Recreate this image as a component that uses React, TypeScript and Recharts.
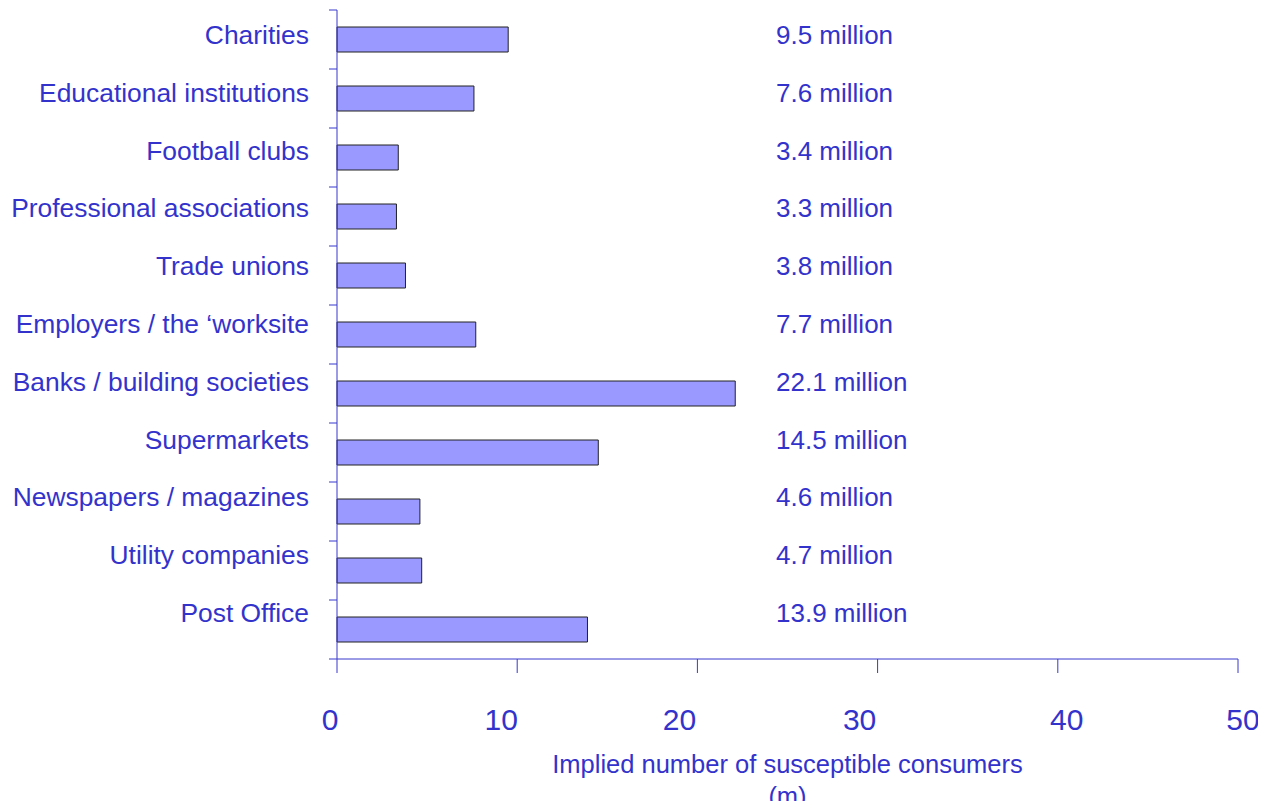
import { BarChart, Bar, XAxis, YAxis, LabelList } from 'recharts';

const categories = [
  'Charities',
  'Educational institutions',
  'Football clubs',
  'Professional associations',
  'Trade unions',
  'Employers / the \u2018worksite',
  'Banks / building societies',
  'Supermarkets',
  'Newspapers / magazines',
  'Utility companies',
  'Post Office',
];

const consumers = [9.5, 7.6, 3.4, 3.3, 3.8, 7.7, 22.1, 14.5, 4.6, 4.7, 13.9];

const valueLabels = [
  '9.5 million',
  '7.6 million',
  '3.4 million',
  '3.3 million',
  '3.8 million',
  '7.7 million',
  '22.1 million',
  '14.5 million',
  '4.6 million',
  '4.7 million',
  '13.9 million',
];

const xTicks = [0, 10, 20, 30, 40, 50];

const data = categories.map((name, i) => ({ name, value: consumers[i], label: valueLabels[i] }));

const BLUE = '#3333cc';
const AXIS = '#3838cc';
const FONT = '"Liberation Sans", Arial, sans-serif';

// the original's tick numbers sit a bit off their ticks
const xLabelShift = [-7, -16, -18, -18, 9, 5];

// text in the original drifts up a little per row
const rowShift = (index: number) => 4.5 - 1.2 * index;

const CategoryTick = (props: any) => {
  const { x, y, payload, index } = props;
  const half = payload.offset ?? 0;
  const axisX = x + 28;
  return (
    <g>
      <line x1={axisX - 8} x2={axisX} y1={y - half} y2={y - half} stroke={AXIS} strokeWidth={1} />
      {index === categories.length - 1 && (
        <line x1={axisX - 8} x2={axisX} y1={y + half} y2={y + half} stroke={AXIS} strokeWidth={1} />
      )}
      <text x={x} y={y + rowShift(index)} textAnchor="end" fill={BLUE} fontSize={26.4} fontFamily={FONT}>
        {payload.value}
      </text>
    </g>
  );
};

const NumberTick = (props: any) => {
  const { x, y, payload, index } = props;
  return (
    <text x={x + (xLabelShift[index] ?? 0)} y={y + 21} textAnchor="middle" fill={BLUE} fontSize={30} fontFamily={FONT}>
      {payload.value}
    </text>
  );
};

const ValueLabel = (props: any) => {
  const { x, y, height, index, value } = props;
  return (
    <text x={x + 439} y={y + height / 2 + rowShift(index)} fill={BLUE} fontSize={26} fontFamily={FONT}>
      {value}
    </text>
  );
};

const AxisTitle = (props: any) => {
  const { x, y, width } = props.viewBox;
  const cx = x + width / 2;
  return (
    <text x={cx} y={y + 114} textAnchor="middle" fill={BLUE} fontSize={25.5} fontFamily={FONT}>
      <tspan x={cx}>Implied number of susceptible consumers</tspan>
      <tspan x={cx} dy={32}>(m)</tspan>
    </text>
  );
};

export default function App() {
  return (
    <BarChart
      width={1258}
      height={793}
      data={data}
      layout="vertical"
      margin={{ top: 2, right: 28, left: 0, bottom: 0 }}
      barCategoryGap={0}
    >
      <XAxis
        type="number"
        domain={[0, 50]}
        ticks={xTicks}
        height={142}
        stroke={AXIS}
        tickSize={14}
        tickMargin={36}
        tick={<NumberTick />}
        label={<AxisTitle />}
      />
      <YAxis
        type="category"
        dataKey="name"
        width={329}
        stroke={AXIS}
        tickLine={false}
        tickSize={8}
        tickMargin={20}
        tick={<CategoryTick />}
        interval={0}
      />
      <Bar dataKey="value" fill="#9999ff" stroke="#222" strokeWidth={1} barSize={25} isAnimationActive={false}>
        <LabelList dataKey="label" content={<ValueLabel />} />
      </Bar>
    </BarChart>
  );
}
